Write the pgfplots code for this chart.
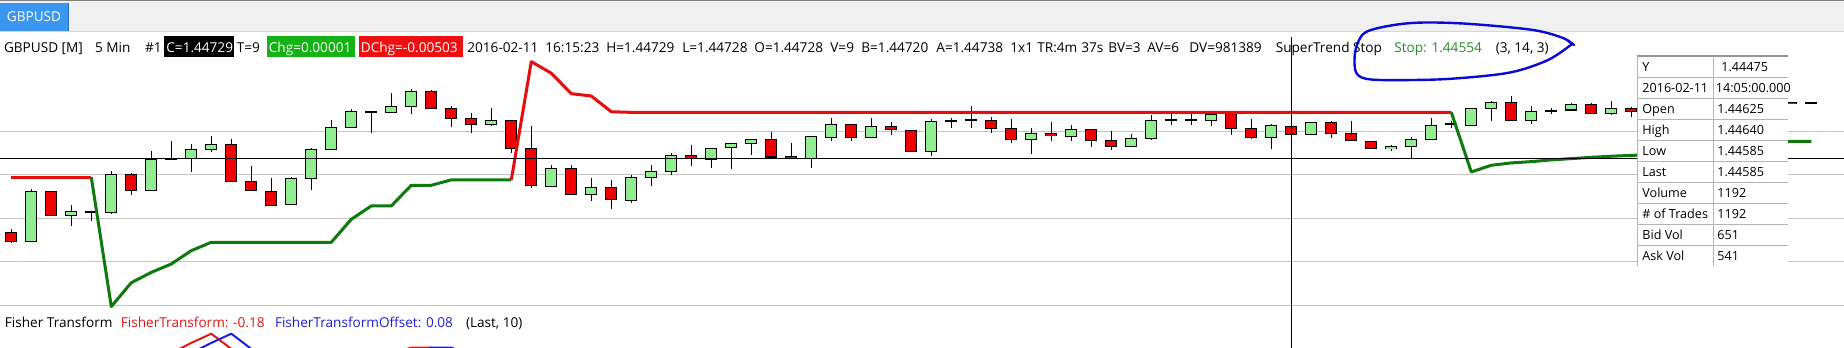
\documentclass[border=0pt]{standalone}
\usepackage{fontspec}
\setmainfont{Open Sans}
\usepackage{pgfplots}
\usepackage{pgfplotstable}
\pgfplotsset{compat=1.18}
\definecolor{cgreen}{RGB}{144,238,144}
\definecolor{cred}{RGB}{240,0,0}
\definecolor{stred}{RGB}{232,12,12}
\definecolor{stgreen}{RGB}{14,122,14}
\definecolor{gridgray}{RGB}{196,196,196}
\definecolor{tabblue}{RGB}{58,150,240}
\definecolor{barbg}{RGB}{240,240,240}
\definecolor{boxgreen}{RGB}{20,178,20}
\definecolor{boxred}{RGB}{238,16,16}
\definecolor{stoptext}{RGB}{40,140,40}
\definecolor{fred}{RGB}{230,20,20}
\definecolor{fblue}{RGB}{30,30,220}
\definecolor{penblue}{RGB}{10,10,215}
\definecolor{tline}{RGB}{180,180,180}
\definecolor{barline}{RGB}{214,214,214}
\definecolor{tabedge}{RGB}{40,110,190}
\definecolor{ttop}{RGB}{150,150,150}
\newcommand\hf{\fontsize{6.8pt}{8pt}\selectfont}
\newcommand\tf{\fontsize{6.3pt}{7.5pt}\selectfont}

% candles: i open high low close
\pgfplotstableread{
i o h l c
1 1.44088 1.44331 1.44086 1.44320
3 1.44210 1.44257 1.44162 1.44229
5 1.44223 1.44416 1.44218 1.44401
7 1.44326 1.44509 1.44322 1.44472
9 1.44478 1.44542 1.44413 1.44517
10 1.44517 1.44582 1.44506 1.44540
14 1.44261 1.44390 1.44261 1.44382
15 1.44382 1.44522 1.44330 1.44517
16 1.44517 1.44654 1.44517 1.44619
17 1.44619 1.44703 1.44619 1.44694
19 1.44689 1.44782 1.44689 1.44717
20 1.44717 1.44798 1.44683 1.44787
24 1.44633 1.44708 1.44627 1.44652
27 1.44344 1.44447 1.44344 1.44429
29 1.44308 1.44384 1.44280 1.44340
31 1.44280 1.44401 1.44269 1.44387
32 1.44387 1.44443 1.44348 1.44415
33 1.44415 1.44503 1.44399 1.44488
35 1.44472 1.44525 1.44432 1.44522
36 1.44525 1.44548 1.44427 1.44545
37 1.44543 1.44564 1.44492 1.44564
40 1.44475 1.44578 1.44432 1.44578
41 1.44573 1.44667 1.44557 1.44633
43 1.44573 1.44661 1.44573 1.44624
46 1.44508 1.44657 1.44488 1.44647
51 1.44564 1.44616 1.44497 1.44592
53 1.44578 1.44630 1.44557 1.44610
56 1.44531 1.44588 1.44531 1.44568
57 1.44568 1.44675 1.44562 1.44652
60 1.44652 1.44680 1.44627 1.44680
63 1.44573 1.44635 1.44517 1.44629
65 1.44588 1.44644 1.44588 1.44640
69 1.44522 1.44537 1.44512 1.44531
70 1.44531 1.44578 1.44475 1.44564
71 1.44564 1.44663 1.44564 1.44629
73 1.44630 1.44712 1.44630 1.44708
74 1.44708 1.44742 1.44652 1.44736
76 1.44652 1.44720 1.44638 1.44695
78 1.44700 1.44734 1.44700 1.44726
80 1.44686 1.44745 1.44677 1.44708
}\candleup

\pgfplotstableread{
i o h l c
0 1.44131 1.44147 1.44083 1.44088
2 1.44322 1.44322 1.44210 1.44210
6 1.44401 1.44406 1.44306 1.44326
11 1.44540 1.44564 1.44368 1.44368
12 1.44368 1.44443 1.44326 1.44326
13 1.44322 1.44387 1.44257 1.44257
21 1.44787 1.44791 1.44708 1.44708
22 1.44708 1.44719 1.44623 1.44661
23 1.44661 1.44685 1.44595 1.44633
25 1.44652 1.44652 1.44500 1.44520
26 1.44522 1.44626 1.44339 1.44348
28 1.44429 1.44447 1.44308 1.44308
30 1.44340 1.44375 1.44241 1.44285
34 1.44489 1.44540 1.44441 1.44475
38 1.44564 1.44598 1.44483 1.44483
39 1.44485 1.44547 1.44477 1.44477
42 1.44633 1.44633 1.44557 1.44571
44 1.44624 1.44644 1.44585 1.44610
45 1.44604 1.44609 1.44503 1.44508
49 1.44652 1.44667 1.44595 1.44615
50 1.44615 1.44658 1.44548 1.44564
52 1.44592 1.44644 1.44557 1.44582
54 1.44610 1.44610 1.44530 1.44559
55 1.44559 1.44605 1.44516 1.44531
61 1.44692 1.44692 1.44587 1.44615
62 1.44615 1.44658 1.44564 1.44573
64 1.44625 1.44640 1.44585 1.44585
66 1.44644 1.44649 1.44571 1.44592
67 1.44592 1.44649 1.44556 1.44556
68 1.44556 1.44556 1.44517 1.44523
75 1.44736 1.44765 1.44652 1.44652
79 1.44726 1.44731 1.44686 1.44686
81 1.44708 1.44714 1.44669 1.44692
89 1.44737 1.44737 1.44731 1.44731
}\candledown

\pgfplotstableread{
i o h l c
4 1.44226 1.44227 1.44185 1.44226
8 1.44471 1.44556 1.44468 1.44471
18 1.44691 1.44694 1.44596 1.44691
47 1.44650 1.44664 1.44618 1.44650
48 1.44655 1.44717 1.44618 1.44655
58 1.44654 1.44681 1.44633 1.44654
59 1.44655 1.44681 1.44633 1.44655
72 1.44635 1.44649 1.44615 1.44635
77 1.44695 1.44711 1.44680 1.44695
90 1.44733 1.44733 1.44733 1.44733
}\candledoji

\pgfplotsset{
  wick/.style={draw=none, forget plot, error bars/.cd, y dir=both, y explicit,
    error mark=none, error bar style={draw=black, line width=0.6pt}},
  bodyout/.style={draw=none, forget plot, error bars/.cd, y dir=both, y explicit,
    error mark=none, error bar style={draw=black, line width=6pt}},
  bodyin/.style={draw=none, forget plot, error bars/.cd, y dir=both, y explicit,
    error mark=none, error bar style={draw=#1, line width=5pt}},
  gridln/.style={gridgray, line width=0.75pt, forget plot},
}

\begin{document}
\begin{tikzpicture}
\path[use as bounding box] (0,0) rectangle (922pt,-174pt);
\fill[white] (0,0) rectangle (922pt,-174pt);

\begin{scope}[x=0.5pt,y=-0.5pt, hd/.style={anchor=base west, inner sep=0pt, font=\hf}]
  \fill[barbg] (0,0) rectangle (1844,31);
  \fill[gray] (0,0) rectangle (1844,1.4);
  \draw[barline, line width=0.5pt] (0,31.5) -- (1844,31.5);
  \fill[tabblue] (0,3.3) rectangle (68.6,30.5);
  \draw[tabedge, line width=0.5pt] (68.3,3.3) -- (68.3,30.5);
  \node[anchor=center, inner sep=0pt, font=\hf, white] at (34,16.8) {GBPUSD};

  \node[hd] at (3.6,52) {GBPUSD [M]};
  \node[hd] at (94.6,52) {5 Min};
  \node[hd] at (144.6,52) {\#1};
  \fill[black] (164,36) rectangle (234,57);
  \begin{scope}\clip (164,36) rectangle (234,57);
    \node[hd, white] at (166,52) {C=1.44729};
  \end{scope}
  \node[hd] at (236.4,52) {T=9};
  \fill[boxgreen] (267,36) rectangle (354.6,57);
  \begin{scope}\clip (267,36) rectangle (354.6,57);
    \node[hd, white] at (268.5,52) {Chg=0.00001};
  \end{scope}
  \fill[boxred] (359,36) rectangle (462.5,57);
  \begin{scope}\clip (359,36) rectangle (462.5,57);
    \node[hd, white] at (360.5,52) {DChg=-0.00503};
  \end{scope}
  \node[hd] at (467,52) {2016-02-11};
  \node[hd] at (545,52) {16:15:23};
  \node[hd] at (606,52) {H=1.44729};
  \node[hd] at (682,52) {L=1.44728};
  \node[hd] at (754,52) {O=1.44728};
  \node[hd] at (830,52) {V=9};
  \node[hd] at (861,52) {B=1.44720};
  \node[hd] at (936,52) {A=1.44738};
  \node[hd] at (1010,52) {1x1};
  \node[hd] at (1037,52) {TR:4m};
  \node[hd] at (1081,52) {37s};
  \node[hd] at (1108,52) {BV=3};
  \node[hd] at (1147,52) {AV=6};
  \node[hd] at (1189,52) {DV=981389};
  \node[hd] at (1275.4,52) {SuperTrend Stop};
  \node[hd, stoptext] at (1394,52) {Stop: 1.44554};
  \node[hd] at (1495.4,52) {(3, 14, 3)};
\end{scope}

% ---------------- price panel ----------------
\begin{axis}[at={(0pt,-18pt)}, anchor=north west, scale only axis,
  width=922pt, height=138pt,
  xmin=-0.565, xmax=91.635, ymin=1.437607, ymax=1.450441,
  axis line style={draw=none}, xtick=\empty, ytick=\empty,
  clip=true]
  % horizontal grid lines
  \addplot[gridln] coordinates {(-1,1.43792) (93,1.43792)};
  \addplot[gridln] coordinates {(-1,1.43996) (93,1.43996)};
  \addplot[gridln] coordinates {(-1,1.44196) (93,1.44196)};
  \addplot[gridln] coordinates {(-1,1.44401) (93,1.44401)};
  \addplot[gridln] coordinates {(-1,1.44601) (93,1.44601)};
  % wicks
  \addplot[wick] table[x=i, y expr={(\thisrow{h}+\thisrow{l})/2}, y error expr={(\thisrow{h}-\thisrow{l})/2}] {\candleup};
  \addplot[wick] table[x=i, y expr={(\thisrow{h}+\thisrow{l})/2}, y error expr={(\thisrow{h}-\thisrow{l})/2}] {\candledown};
  \addplot[wick] table[x=i, y expr={(\thisrow{h}+\thisrow{l})/2}, y error expr={(\thisrow{h}-\thisrow{l})/2}] {\candledoji};
  % bodies
  \addplot[bodyout] table[x=i, y expr={(\thisrow{o}+\thisrow{c})/2}, y error expr={abs(\thisrow{c}-\thisrow{o})/2+0.000024}] {\candleup};
  \addplot[bodyin=cgreen] table[x=i, y expr={(\thisrow{o}+\thisrow{c})/2}, y error expr={max(abs(\thisrow{c}-\thisrow{o})/2-0.000024,0)}] {\candleup};
  \addplot[bodyout] table[x=i, y expr={(\thisrow{o}+\thisrow{c})/2}, y error expr={abs(\thisrow{c}-\thisrow{o})/2+0.000024}] {\candledown};
  \addplot[bodyin=cred] table[x=i, y expr={(\thisrow{o}+\thisrow{c})/2}, y error expr={max(abs(\thisrow{c}-\thisrow{o})/2-0.000024,0)}] {\candledown};
  \addplot[bodyout] table[x=i, y expr={(\thisrow{o}+\thisrow{c})/2}, y error expr={0.000045}] {\candledoji};
  % SuperTrend stop
  \addplot[stred, line width=1.5pt, line join=round] coordinates {(0,1.44387) (4,1.44387)};
  \addplot[stgreen, line width=1.5pt, line join=round] coordinates {
    (4,1.44387) (5,1.43786) (6,1.43897) (7,1.43945) (8,1.43984) (9,1.44046) (10,1.44085)
    (16,1.44085) (17,1.44192) (18,1.44254) (19,1.44254) (20,1.44350) (21,1.44350)
    (22,1.44375) (25,1.44375)};
  \addplot[stred, line width=1.5pt, line join=round] coordinates {
    (25,1.44375) (26,1.44925) (27,1.44871) (28,1.44776) (29,1.44765) (30,1.44692)
    (31,1.44689) (72,1.44689)};
  \addplot[stgreen, line width=1.5pt, line join=round] coordinates {
    (72,1.44689) (73,1.44412) (74,1.44443) (75,1.44454) (76,1.44460) (77,1.44468)
    (78,1.44474) (79,1.44480) (80,1.44485) (81,1.44489) (82,1.44492) (89,1.44554) (90,1.44554)};
\end{axis}

% ---------------- Fisher panel ----------------
\begin{axis}[at={(0pt,-156pt)}, anchor=north west, scale only axis,
  width=922pt, height=18pt,
  xmin=-0.565, xmax=91.635, ymin=1.2, ymax=3.0,
  axis line style={draw=none}, xtick=\empty, ytick=\empty, clip=true]
  \addplot[fred, line width=1pt, line join=round] coordinates {
    (7,0.40) (8,0.96) (9,1.455) (10,1.915) (11,1.155) (12,0.60) (14,0.30) (16,0.40)
    (18,0.60) (19,0.90) (20,1.225) (21,1.225) (22,0.80) (23,0.50)};
  \addplot[fblue, line width=1pt, line join=round] coordinates {
    (8,0.40) (9,0.96) (10,1.455) (11,1.915) (12,1.155) (13,0.60) (15,0.30) (17,0.40)
    (19,0.60) (20,0.90) (21,1.225) (22,1.225) (23,0.80) (24,0.50)};
\end{axis}

\begin{scope}[x=0.5pt,y=-0.5pt, hd/.style={anchor=base west, inner sep=0pt, font=\hf},
  td/.style={anchor=base west, inner sep=0pt, font=\tf}]
  % crosshair
  \draw[black, line width=0.5pt] (0,158.3) -- (1844,158.3);
  \draw[black, line width=0.5pt] (1291.3,37) -- (1291.3,348);
  % Fisher labels
  \node[hd] at (4.5,327) {Fisher Transform};
  \node[hd, fred] at (120.5,327) {FisherTransform: -0.18};
  \node[hd, fblue] at (274.6,327) {FisherTransformOffset: 0.08};
  \node[hd] at (465.6,327) {(Last, 10)};
  % data box
  \fill[white] (1637.3,56) rectangle (1788.3,266);
  \foreach \yy in {77.3,98.3,119.3,140.3,161.3,182.3,203.3,224.3,245.3}
    \draw[tline, line width=0.6pt] (1637.3,\yy) -- (1788.3,\yy);
  \draw[ttop, line width=1pt] (1637.3,56) -- (1788.3,56);
  \draw[tline, line width=0.6pt] (1637.3,56) -- (1637.3,266);
  \draw[tline, line width=0.6pt] (1713.3,56) -- (1713.3,266);
  \node[td] at (1642,71.2) {Y};            \node[td] at (1721,71.2) {1.44475};
  \node[td] at (1642,92.2) {2016-02-11};   \node[td] at (1715.5,92.2) {14:05:00.000};
  \node[td] at (1642,113.2) {Open};        \node[td] at (1717,113.2) {1.44625};
  \node[td] at (1642,134.2) {High};        \node[td] at (1717,134.2) {1.44640};
  \node[td] at (1642,155.2) {Low};         \node[td] at (1717,155.2) {1.44585};
  \node[td] at (1642,176.2) {Last};        \node[td] at (1717,176.2) {1.44585};
  \node[td] at (1642,197.2) {Volume};      \node[td] at (1717,197.2) {1192};
  \node[td] at (1642,218.2) {\# of Trades};\node[td] at (1717,218.2) {1192};
  \node[td] at (1642,239.2) {Bid Vol};     \node[td] at (1717,239.2) {651};
  \node[td] at (1642,260.2) {Ask Vol};     \node[td] at (1717,260.2) {541};
  % hand-drawn ellipse
  \draw[penblue, line width=1.2pt, line cap=round, line join=round]
    plot[smooth, tension=0.55] coordinates {(1572,44) (1548,60) (1510,72.5) (1455,78.5)
      (1413,80) (1371,79.5) (1357,74) (1354.5,60) (1357,45) (1366,32) (1394,25)
      (1425,22.5) (1471,24) (1533,30) (1563,38) (1574,45) (1568,41)};
\end{scope}
\end{tikzpicture}
\end{document}
